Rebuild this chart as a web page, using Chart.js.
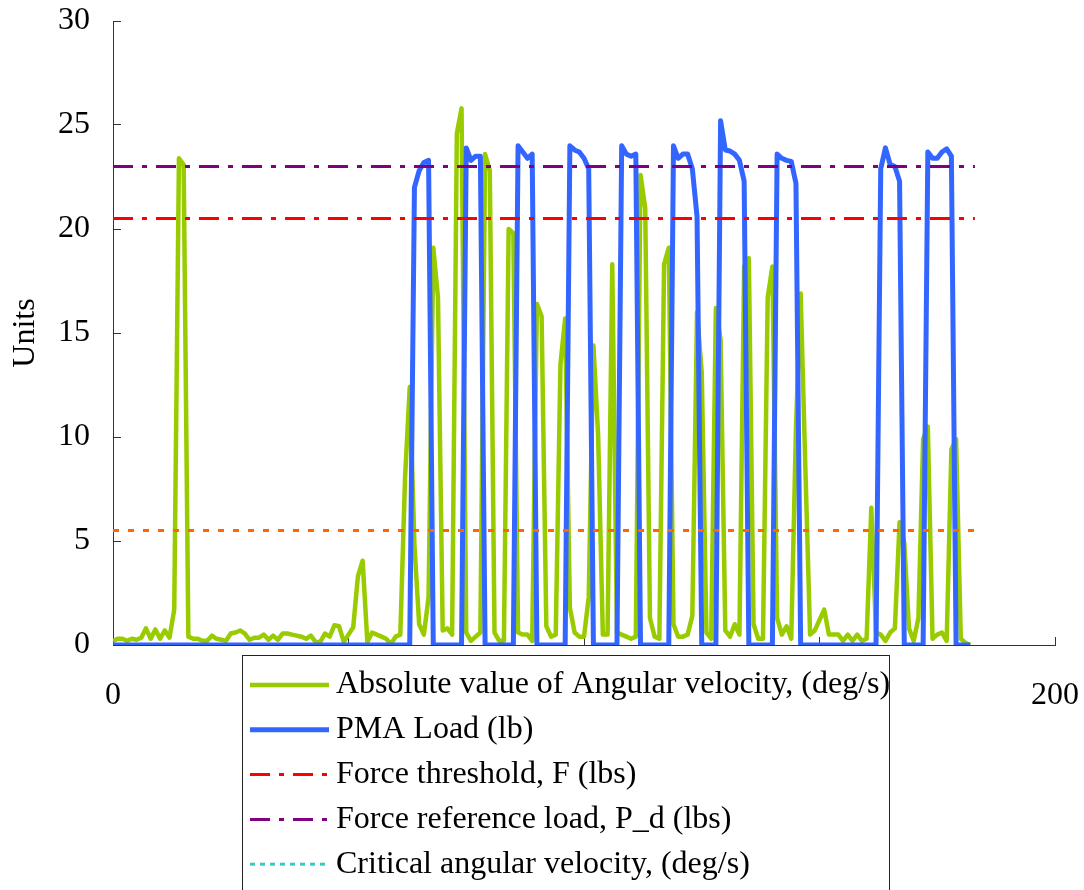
<!DOCTYPE html>
<html>
<head>
<meta charset="utf-8">
<script src="https://cdn.jsdelivr.net/npm/chart.js@4"></script>
<style>
  html, body { margin: 0; padding: 0; background: #fff; }
  #wrap { position: relative; width: 1084px; height: 890px; overflow: hidden; }
</style>
</head>
<body>
<div id="wrap"><canvas id="myChart" width="1084" height="890"></canvas></div>
<script>
// sample values, one per x step (0..182)
const angVel = [
  0.2, 0.3, 0.3, 0.2, 0.3, 0.25, 0.35, 0.8, 0.3, 0.75,
  0.3, 0.7, 0.35, 1.7, 23.4, 23.1, 0.4, 0.3, 0.3, 0.2,
  0.2, 0.45, 0.3, 0.25, 0.2, 0.55, 0.6, 0.7, 0.55, 0.25,
  0.35, 0.35, 0.5, 0.25, 0.45, 0.25, 0.55, 0.55, 0.5, 0.45,
  0.4, 0.3, 0.45, 0.15, 0.15, 0.55, 0.4, 0.95, 0.9, 0.15,
  0.5, 0.85, 3.3, 4.05, 0.15, 0.6, 0.5, 0.4, 0.3, 0.05,
  0.4, 0.5, 8.0, 12.4, 4.8, 1.0, 0.5, 2.3, 19.1, 16.7,
  0.7, 0.8, 0.5, 24.6, 25.8, 0.6, 0.2, 0.4, 0.6, 23.6,
  22.8, 0.6, 0.2, 0.2, 20.0, 19.8, 0.6, 0.5, 0.5, 0.2,
  16.4, 15.8, 0.9, 0.4, 0.5, 13.5, 15.7, 1.8, 0.6, 0.4,
  0.4, 2.3, 14.4, 10.1, 0.5, 0.5, 18.3, 0.6, 0.5, 0.4,
  0.3, 0.4, 22.6, 21.0, 1.3, 0.4, 0.3, 18.3, 19.1, 1.0,
  0.4, 0.4, 0.5, 1.4, 16.0, 13.1, 0.6, 0.3, 16.2, 14.7,
  0.7, 0.4, 1.0, 0.5, 18.2, 18.6, 1.0, 0.3, 0.3, 16.7,
  18.2, 1.3, 0.5, 0.9, 0.3, 10.4, 16.9, 8.5, 0.5, 0.7,
  1.2, 1.7, 0.5, 0.5, 0.5, 0.2, 0.5, 0.2, 0.5, 0.2,
  0.3, 6.6, 0.6, 0.5, 0.2, 0.6, 0.8, 5.9, 4.9, 0.8,
  0.2, 1.3, 9.9, 10.5, 0.3, 0.5, 0.6, 0.2, 9.4, 9.9,
  0.3, 0.1, 0.0
];

const pmaLoad = [
  0, 0, 0, 0, 0, 0, 0, 0, 0, 0,
  0, 0, 0, 0, 0, 0, 0, 0, 0, 0,
  0, 0, 0, 0, 0, 0, 0, 0, 0, 0,
  0, 0, 0, 0, 0, 0, 0, 0, 0, 0,
  0, 0, 0, 0, 0, 0, 0, 0, 0, 0,
  0, 0, 0, 0, 0, 0, 0, 0, 0, 0,
  0, 0, 0, 0, 22.0, 22.8, 23.2, 23.3, 0, 0,
  0, 0, 0, 0, 0, 23.9, 23.3, 23.5, 23.5, 0,
  0, 0, 0, 0, 0, 0, 24.0, 23.7, 23.4, 23.6,
  0, 0, 0, 0, 0, 0, 0, 24.0, 23.8, 23.7,
  23.4, 22.9, 0, 0, 0, 0, 0, 0, 24.0, 23.6,
  23.5, 23.6, 0, 0, 0, 0, 0, 0, 0, 24.0,
  23.4, 23.6, 23.6, 22.9, 20.6, 0, 0, 0, 0, 25.2,
  23.8, 23.75, 23.6, 23.3, 22.3, 0, 0, 0, 0, 0,
  0, 23.6, 23.4, 23.3, 23.25, 22.2, 0, 0, 0, 0,
  0, 0, 0, 0, 0, 0, 0, 0, 0, 0,
  0, 0, 0, 22.9, 23.9, 23.1, 23.0, 22.3, 0, 0,
  0, 0, 0, 23.7, 23.4, 23.4, 23.7, 23.85, 23.5, 0,
  0, 0, 0
];

const forceThreshold = 20.5;
const forceReference = 23;
const criticalVel = 5.5;
const lineEnd = 183;

const xTicks = [0, 50, 100, 150, 200];
const yTicks = [0, 5, 10, 15, 20, 25, 30];

const toPoints = (arr) => arr.map((v, i) => ({ x: i, y: v }));
const flat = (v) => [{ x: 0, y: v }, { x: lineEnd, y: v }];

const font = '"Liberation Serif", "Times New Roman", serif';
const fontSize = 32;

// keep the plot box where we put it, no extra label padding
const noPad = (s) => {
  s.paddingTop = 0;
  s.paddingBottom = 0;
  s.paddingLeft = 0;
  s.paddingRight = 0;
};

// legend box drawn over the lower part of the plot
const boxLegend = {
  id: "boxLegend",
  afterDraw(chart) {
    const ctx = chart.ctx;
    ctx.save();
    ctx.fillStyle = "#fff";
    ctx.strokeStyle = "#222";
    ctx.lineWidth = 1;
    ctx.fillRect(242.5, 655.5, 647, 260);
    ctx.strokeRect(242.5, 655.5, 647, 260);
    ctx.font = fontSize + "px " + font;
    ctx.textBaseline = "middle";
    let y = 685;
    chart.data.datasets.forEach((ds) => {
      if (!ds.inLegend) return;
      ctx.beginPath();
      ctx.strokeStyle = ds.borderColor;
      ctx.lineWidth = ds.borderWidth;
      ctx.setLineDash(ds.borderDash || []);
      ctx.lineCap = "butt";
      ctx.moveTo(250, y);
      ctx.lineTo(329, y);
      ctx.stroke();
      ctx.setLineDash([]);
      ctx.fillStyle = "#000";
      ctx.fillText(ds.label, 336, y);
      y += 44.8;
    });
    ctx.restore();
  },
};

const chart = new Chart(document.getElementById("myChart"), {
  type: "line",
  data: {
    datasets: [
      {
        label: "Absolute value of Angular velocity, (deg/s)",
        data: toPoints(angVel),
        borderColor: "#99CC00",
        borderWidth: 4.5,
        order: 5,
        inLegend: true,
      },
      {
        label: "PMA Load (lb)",
        data: toPoints(pmaLoad),
        borderColor: "#3366FF",
        borderWidth: 5,
        order: 4,
        inLegend: true,
      },
      {
        label: "Force threshold, F (lbs)",
        data: flat(forceThreshold),
        borderColor: "#FF0000",
        borderWidth: 3,
        borderDash: [20, 9, 5, 9],
        order: 3,
        inLegend: true,
      },
      {
        label: "Force reference load, P_d (lbs)",
        data: flat(forceReference),
        borderColor: "#800080",
        borderWidth: 3,
        borderDash: [20, 9, 5, 9],
        order: 2,
        inLegend: true,
      },
      {
        label: "Critical angular velocity, (deg/s)",
        data: [],
        borderColor: "#33CCCC",
        borderWidth: 3,
        borderDash: [5, 5],
        order: 1,
        inLegend: true,
      },
      {
        label: "critical level",
        data: flat(criticalVel),
        borderColor: "#FF6600",
        borderWidth: 3,
        borderDash: [6, 9],
        order: 0,
        inLegend: false,
      },
    ],
  },
  options: {
    responsive: false,
    animation: false,
    events: [],
    elements: {
      point: { radius: 0 },
      line: { tension: 0, borderJoinStyle: "round", fill: false },
    },
    layout: { padding: { top: 21, right: 29, left: 0, bottom: 0 } },
    plugins: {
      legend: { display: false },
      tooltip: { enabled: false },
    },
    scales: {
      x: {
        type: "linear",
        min: 0,
        max: 200,
        afterBuildTicks: (s) => { s.ticks = xTicks.map((v) => ({ value: v })); },
        afterFit: (s) => { s.height = 245; noPad(s); },
        grid: { drawOnChartArea: false, tickLength: -8, color: "#333" },
        border: { display: true, color: "#333", width: 1 },
        ticks: { padding: 39, color: "#000", font: { family: font, size: fontSize }, maxRotation: 0 },
      },
      y: {
        min: 0,
        max: 30,
        afterBuildTicks: (s) => { s.ticks = yTicks.map((v) => ({ value: v })); },
        afterFit: (s) => { s.width = 113; noPad(s); },
        grid: { drawOnChartArea: false, tickLength: -8, color: "#333" },
        border: { display: true, color: "#333", width: 1 },
        ticks: { padding: 31, color: "#000", font: { family: font, size: fontSize } },
        title: {
          display: true,
          text: "Units",
          color: "#000",
          font: { family: font, size: fontSize },
          padding: { top: 6, bottom: 0 },
        },
      },
    },
  },
  plugins: [boxLegend],
});
</script>
</body>
</html>
